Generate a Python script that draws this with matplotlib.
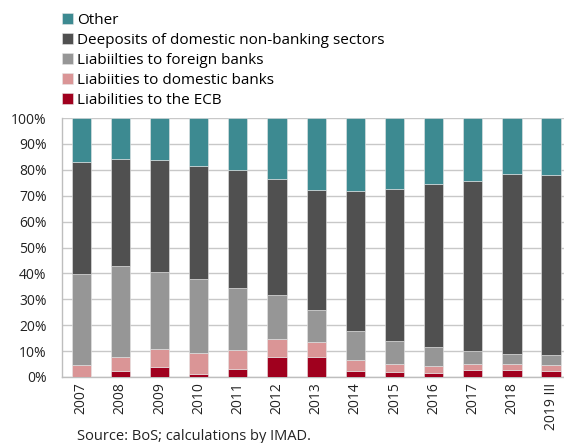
import numpy as np
from matplotlib import pyplot as plt

plt.rcParams['font.family'] = ['Open Sans', 'DejaVu Sans']

years = ['2007', '2008', '2009', '2010', '2011', '2012', '2013',
         '2014', '2015', '2016', '2017', '2018', '2019 III']

# cumulative shares (%)
ecb = [0.0, 2.3, 3.7, 1.0, 3.1, 7.6, 7.6, 2.2, 1.8, 1.4, 2.6, 2.6, 2.3]
dom_cum = [4.5, 7.9, 11.0, 9.4, 10.3, 14.5, 13.4, 6.7, 5.2, 4.4, 5.2, 5.2, 4.5]
for_cum = [39.9, 42.8, 40.4, 37.8, 34.5, 31.5, 25.8, 17.9, 13.8, 11.5, 9.9, 9.0, 8.5]
dep_cum = [83.2, 84.1, 83.9, 81.4, 80.0, 76.6, 72.1, 71.9, 72.4, 74.7, 75.6, 78.2, 77.8]

ecb = np.array(ecb)
domestic = np.array(dom_cum) - ecb
foreign = np.array(for_cum) - np.array(dom_cum)
deposits = np.array(dep_cum) - np.array(for_cum)
other = 100 - np.array(dep_cum)

series = [
    ('Liabilities to the ECB', ecb, '#A0001E'),
    ('Liabiities to domestic banks', domestic, '#DA9596'),
    ('Liabiilties to foreign banks', foreign, '#969696'),
    ('Deeposits of domestic non-banking sectors', deposits, '#505050'),
    ('Other', other, '#3D8A91'),
]

fig = plt.figure(figsize=(5.64, 4.43), dpi=100)
ax = fig.add_axes([62 / 564, 1 - 377 / 443, 1 - 62 / 564, 259 / 443])

x = np.arange(len(years))
bottom = np.zeros(len(years))
handles = []
for name, vals, col in series:
    b = ax.bar(x, vals, 0.49, bottom=bottom, color=col, label=name,
               edgecolor='#E6E6E6', linewidth=0.4, zorder=3)
    handles.append(b)
    bottom += vals

ax.set_xlim(-0.49, 12.33)
ax.set_ylim(0, 100)
ax.set_yticks(np.arange(0, 101, 10))
ax.set_yticklabels([f'{v}%' for v in range(0, 101, 10)], fontsize=10, color='#222222')
ax.set_xticks(x)
ax.set_xticklabels(years, rotation=90, fontsize=10, color='#222222')
ax.tick_params(axis='y', length=0, pad=11)
ax.tick_params(axis='x', length=0, pad=4)
ax.yaxis.grid(True, color='#C8C8C8', linewidth=1.0, zorder=0)
for s in ['top', 'right']:
    ax.spines[s].set_visible(False)
for s in ['left', 'bottom']:
    ax.spines[s].set_color('#BEBEBE')
    ax.spines[s].set_linewidth(1.0)

fig.legend(handles[::-1], [s[0] for s in series][::-1],
           loc='upper left', bbox_to_anchor=(51 / 564, 1 - 2 / 443),
           frameon=False, fontsize=11, handlelength=0.75, handleheight=0.75,
           handletextpad=0.25, labelspacing=0.33, borderpad=0.2)

fig.text(77 / 564, 1 - 437 / 443, 'Source: BoS; calculations by IMAD.',
         fontsize=10.5, va='center', ha='left', color='#222222')

fig.savefig('out.png', dpi=100)
